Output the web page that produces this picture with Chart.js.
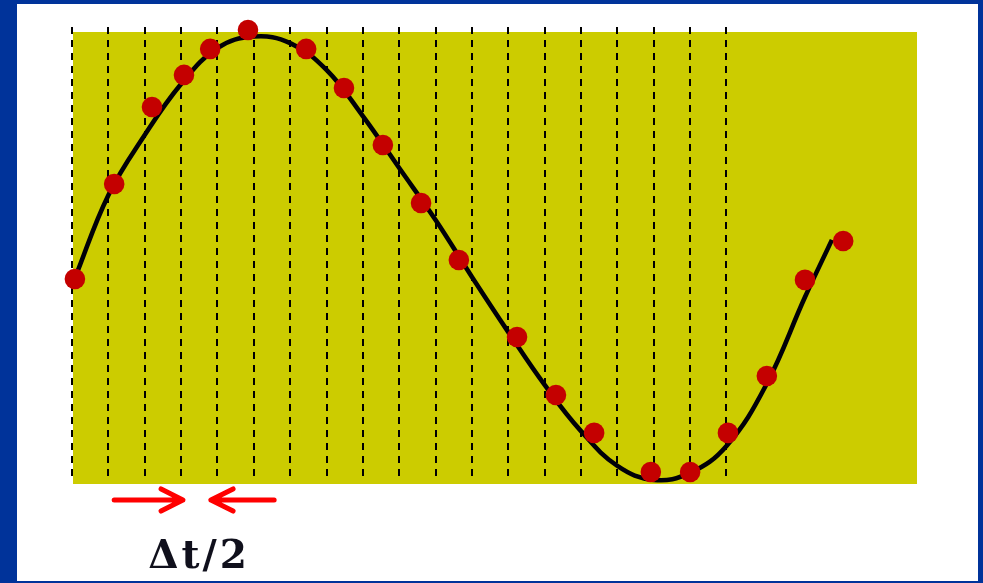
<!DOCTYPE html>
<html>
<head>
<meta charset="utf-8">
<title>Sampling of a signal</title>
<script src="https://cdn.jsdelivr.net/npm/chart.js@4/dist/chart.umd.min.js"></script>
<style>
  html, body { margin: 0; padding: 0; }
  body { width: 983px; height: 583px; background: #00339a; position: relative; overflow: hidden; }
  #panel { position: absolute; left: 17px; top: 4px; width: 961px; height: 577px; background: #ffffff; }
  #plot { position: absolute; left: 0; top: 0; }
  #label {
    position: absolute; left: 99px; top: 535px; width: 200px; text-align: center;
    font-family: "DejaVu Serif", serif; font-weight: bold; font-size: 39px; line-height: 39px;
    letter-spacing: 3px; color: #10101c;
  }
</style>
</head>
<body>
<div id="panel"></div>
<canvas id="plot" width="983" height="583"></canvas>
<div id="label">Δt/2</div>
<script>
// Time is measured in half-steps (Δt/2); amplitude is normalised to ±1.
const gridTicks = [0, 1, 2, 3, 4, 5, 6, 7, 8, 9, 10, 11, 12, 13, 14, 15, 16, 17, 18];

// Continuous signal
const curveT = [0.08, 1, 2, 3, 4, 5, 6, 7, 8, 9, 10, 11, 12, 13, 14, 15, 16, 17, 18, 19.09, 20.16, 20.90];
const curveV = [-0.111, 0.256, 0.522, 0.748, 0.907, 0.958, 0.929, 0.810, 0.606, 0.376, 0.146, -0.106,
                -0.350, -0.584, -0.788, -0.942, -1.004, -0.973, -0.854, -0.584, -0.195, 0.058];

// Samples taken from the signal
const sampleT = [0.08, 1.16, 2.20, 3.08, 3.80, 4.84, 6.44, 7.48, 8.55, 9.60, 10.64, 12.24, 13.31, 14.36, 15.92, 17.00, 18.04, 19.11, 20.16, 21.21];
const sampleV = [-0.115, 0.305, 0.646, 0.788, 0.903, 0.987, 0.903, 0.730, 0.478, 0.221, -0.031, -0.372, -0.628, -0.796, -0.969, -0.969, -0.796, -0.544, -0.119, 0.053];

// Arrows marking one half-step: tail, tip, upper barb, tip, lower barb
const arrowLeftT  = [1.16, 3.05, 2.45, 3.05, 2.45];
const arrowLeftV  = [-1.093, -1.093, -1.044, -1.093, -1.142];
const arrowRightT = [5.56, 3.82, 4.43, 3.82, 4.43];
const arrowRightV = [-1.093, -1.093, -1.044, -1.093, -1.142];

const xMax = 23.24;

const toPoints = (xs, ys) => xs.map((x, i) => ({ x: x, y: ys[i] }));

// Olive band behind the plot
const bandPlugin = {
  id: 'band',
  beforeDraw(chart) {
    const a = chart.chartArea;
    const ctx = chart.ctx;
    ctx.save();
    ctx.fillStyle = '#cccc00';
    ctx.fillRect(a.left + 1, a.top + 5, a.right - a.left - 1, a.bottom - a.top);
    ctx.restore();
  }
};

new Chart(document.getElementById('plot'), {
  type: 'scatter',
  data: {
    datasets: [
      {
        data: toPoints(sampleT, sampleV),
        showLine: false,
        pointRadius: 10.3,
        pointHoverRadius: 10.3,
        pointBackgroundColor: '#c40000',
        pointBorderWidth: 0,
        clip: false,
        order: 0
      },
      {
        data: toPoints(curveT, curveV),
        showLine: true,
        pointRadius: 0,
        borderColor: '#000008',
        borderWidth: 4.6,
        tension: 0.4,
        clip: false,
        order: 1
      },
      {
        data: toPoints(arrowLeftT, arrowLeftV),
        showLine: true,
        pointRadius: 0,
        borderColor: '#ff0000',
        borderWidth: 5,
        borderCapStyle: 'round',
        borderJoinStyle: 'round',
        tension: 0,
        clip: false,
        order: 2
      },
      {
        data: toPoints(arrowRightT, arrowRightV),
        showLine: true,
        pointRadius: 0,
        borderColor: '#ff0000',
        borderWidth: 5,
        borderCapStyle: 'round',
        borderJoinStyle: 'round',
        tension: 0,
        clip: false,
        order: 2
      }
    ]
  },
  options: {
    responsive: false,
    animation: false,
    events: [],
    layout: { padding: { left: 72, top: 27, right: 66, bottom: 104 } },
    plugins: { legend: { display: false }, tooltip: { enabled: false } },
    scales: {
      x: {
        type: 'linear',
        min: 0,
        max: xMax,
        afterBuildTicks(scale) { scale.ticks = gridTicks.map(v => ({ value: v })); },
        ticks: { display: false },
        grid: { color: '#000000', lineWidth: 2, drawTicks: false },
        border: { display: false, dash: [7, 6] }
      },
      y: {
        type: 'linear',
        min: -1,
        max: 1,
        display: false
      }
    }
  },
  plugins: [bandPlugin]
});
</script>
</body>
</html>
